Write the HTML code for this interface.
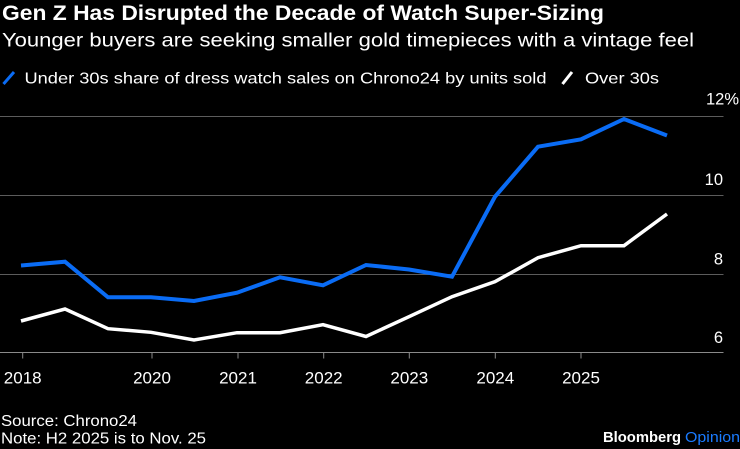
<!DOCTYPE html>
<html>
<head>
<meta charset="utf-8">
<style>
  html, body { margin:0; padding:0; background:#000; }
  body { width:740px; height:449px; overflow:hidden; }
  svg { display:block; }
  text { font-family: "Liberation Sans", "DejaVu Sans", sans-serif; fill:#fff; }
</style>
</head>
<body>
<svg width="740" height="449" viewBox="0 0 740 449" xmlns="http://www.w3.org/2000/svg">
  <rect x="0" y="0" width="740" height="449" fill="#000"/>

  <!-- Title & subtitle -->
  <text x="2" y="20" font-size="21" font-weight="bold" textLength="602" lengthAdjust="spacingAndGlyphs">Gen Z Has Disrupted the Decade of Watch Super-Sizing</text>
  <text x="2" y="46.5" font-size="19.5" textLength="692" lengthAdjust="spacingAndGlyphs">Younger buyers are seeking smaller gold timepieces with a vintage feel</text>

  <!-- Legend -->
  <line x1="3.5" y1="84" x2="14" y2="72" stroke="#0a6cf5" stroke-width="3"/>
  <text x="24.5" y="83.3" font-size="16" textLength="522" lengthAdjust="spacingAndGlyphs">Under 30s share of dress watch sales on Chrono24 by units sold</text>
  <line x1="562.5" y1="84" x2="572" y2="72" stroke="#ffffff" stroke-width="3"/>
  <text x="585" y="83.3" font-size="16" textLength="74" lengthAdjust="spacingAndGlyphs">Over 30s</text>

  <!-- Gridlines -->
  <line x1="0" y1="116.5" x2="723.5" y2="116.5" stroke="#5c5c5c" stroke-width="1"/>
  <line x1="0" y1="195.5" x2="723.5" y2="195.5" stroke="#5c5c5c" stroke-width="1"/>
  <line x1="0" y1="274.5" x2="723.5" y2="274.5" stroke="#5c5c5c" stroke-width="1"/>

  <!-- Y labels -->
  <text x="706" y="104.5" font-size="16.5">12%</text>
  <text x="723" y="185" font-size="16.5" text-anchor="end">10</text>
  <text x="723" y="264.5" font-size="16.5" text-anchor="end">8</text>
  <text x="723" y="343" font-size="16.5" text-anchor="end">6</text>

  <!-- Axis baseline -->
  <line x1="0" y1="352.5" x2="723.5" y2="352.5" stroke="#8a8a8a" stroke-width="1"/>

  <!-- Ticks -->
  <g stroke="#8a8a8a" stroke-width="1">
    <line x1="22.7" y1="352.5" x2="22.7" y2="358.5"/>
    <line x1="152" y1="352.5" x2="152" y2="358.5"/>
    <line x1="238" y1="352.5" x2="238" y2="358.5"/>
    <line x1="323.7" y1="352.5" x2="323.7" y2="358.5"/>
    <line x1="409.3" y1="352.5" x2="409.3" y2="358.5"/>
    <line x1="495.3" y1="352.5" x2="495.3" y2="358.5"/>
    <line x1="581" y1="352.5" x2="581" y2="358.5"/>
  </g>

  <!-- X labels -->
  <g font-size="17" text-anchor="middle">
    <text x="22.7" y="383.5">2018</text>
    <text x="152" y="383.5">2020</text>
    <text x="238" y="383.5">2021</text>
    <text x="323.7" y="383.5">2022</text>
    <text x="409.3" y="383.5">2023</text>
    <text x="495.3" y="383.5">2024</text>
    <text x="581" y="383.5">2025</text>
  </g>

  <!-- Over 30s (white) -->
  <polyline fill="none" stroke="#ffffff" stroke-width="3.5" stroke-linejoin="miter"
    points="21,321 65,309 108,328.7 151,332.3 194,340 237,332.7 280,332.7 323,324.7 366,336.5 409,316.7 452,296.7 495,281.7 538,257.7 581,245.7 624,245.7 667,214"/>

  <!-- Under 30s (blue) -->
  <polyline fill="none" stroke="#0a6cf5" stroke-width="4" stroke-linejoin="miter"
    points="21,265.5 65,261.7 108,297.3 151,297.3 194,301 237,292.7 280,277.3 323,285.3 366,265 409,269.5 452,276.7 495,196.7 538,146.7 581,139.3 624,119 667,135.5"/>

  <!-- Footer -->
  <text x="1" y="426" font-size="15.5" textLength="136" lengthAdjust="spacingAndGlyphs">Source: Chrono24</text>
  <text x="1" y="443.5" font-size="15.5" textLength="205" lengthAdjust="spacingAndGlyphs">Note: H2 2025 is to Nov. 25</text>

  <text x="603" y="442" font-size="15" font-weight="bold" textLength="78" lengthAdjust="spacingAndGlyphs">Bloomberg</text>
  <text x="685" y="442" font-size="15" fill="#1a7bff" style="fill:#1a7bff" textLength="55" lengthAdjust="spacingAndGlyphs">Opinion</text>
</svg>
</body>
</html>
